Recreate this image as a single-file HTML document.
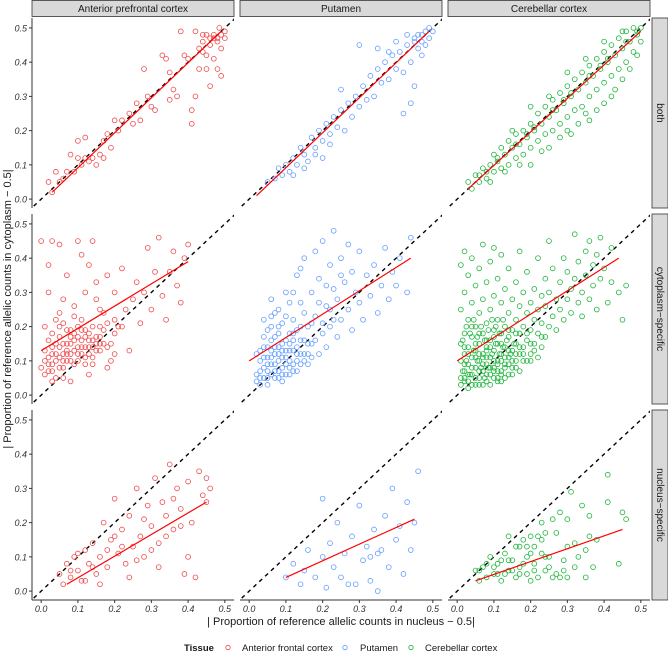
<!DOCTYPE html>
<html><head><meta charset="utf-8"><style>
body{margin:0;background:#fff;width:668px;height:657px;overflow:hidden;font-family:"Liberation Sans",sans-serif}
</style></head><body>
<svg id="chart" width="668" height="657" xmlns="http://www.w3.org/2000/svg" font-family="Liberation Sans, sans-serif"></svg>
<script>
const colTissues=["Anterior prefrontal cortex","Putamen","Cerebellar cortex"];
const rowCategories=["both","cytoplasm\u2212specific","nucleus\u2212specific"];
const legendLabels=["Anterior frontal cortex","Putamen","Cerebellar cortex"];
const tickLabels=["0.0","0.1","0.2","0.3","0.4","0.5"];
const tickValues=[0,0.1,0.2,0.3,0.4,0.5];
// points per panel [x,y]
const apcBoth=[[0.02,0.05],[0.03,0.02],[0.04,0.08],[0.05,0.05],[0.06,0.06],[0.07,0.08],[0.09,0.08],[0.08,0.13],[0.1,0.12],[0.11,0.1],[0.1,0.17],[0.12,0.12],[0.13,0.11],[0.12,0.18],[0.14,0.12],[0.15,0.1],[0.16,0.13],[0.17,0.17],[0.18,0.19],[0.17,0.12],[0.19,0.15],[0.2,0.23],[0.21,0.2],[0.22,0.23],[0.24,0.25],[0.25,0.22],[0.26,0.28],[0.27,0.23],[0.29,0.3],[0.3,0.27],[0.28,0.38],[0.31,0.26],[0.33,0.42],[0.34,0.41],[0.35,0.29],[0.36,0.32],[0.37,0.3],[0.35,0.37],[0.38,0.49],[0.39,0.42],[0.4,0.41],[0.41,0.22],[0.41,0.26],[0.42,0.3],[0.42,0.49],[0.43,0.38],[0.44,0.43],[0.44,0.48],[0.45,0.42],[0.45,0.38],[0.46,0.45],[0.46,0.33],[0.47,0.47],[0.47,0.41],[0.48,0.46],[0.48,0.38],[0.49,0.48],[0.49,0.44],[0.5,0.47],[0.5,0.49],[0.49,0.36],[0.485,0.5],[0.47,0.48],[0.46,0.47],[0.44,0.46],[0.43,0.44],[0.45,0.48],[0.48,0.47]];
const putBoth=[[0.05,0.05],[0.07,0.06],[0.08,0.09],[0.09,0.07],[0.1,0.1],[0.11,0.08],[0.12,0.12],[0.13,0.1],[0.14,0.15],[0.15,0.13],[0.16,0.11],[0.17,0.18],[0.18,0.15],[0.19,0.2],[0.2,0.17],[0.21,0.22],[0.22,0.19],[0.23,0.24],[0.24,0.21],[0.25,0.26],[0.26,0.2],[0.27,0.28],[0.28,0.24],[0.29,0.3],[0.3,0.27],[0.31,0.33],[0.32,0.29],[0.33,0.36],[0.34,0.3],[0.35,0.38],[0.36,0.34],[0.37,0.4],[0.38,0.35],[0.39,0.42],[0.4,0.38],[0.41,0.43],[0.42,0.37],[0.43,0.45],[0.44,0.4],[0.45,0.46],[0.45,0.33],[0.46,0.44],[0.47,0.48],[0.47,0.42],[0.48,0.49],[0.48,0.45],[0.49,0.5],[0.49,0.47],[0.5,0.49],[0.3,0.45],[0.35,0.44],[0.2,0.12],[0.25,0.32],[0.42,0.25],[0.44,0.28],[0.38,0.43],[0.4,0.46],[0.43,0.48],[0.12,0.07],[0.15,0.09],[0.46,0.48],[0.45,0.47],[0.47,0.46],[0.18,0.13],[0.22,0.16]];
const cerBoth=[[0.03,0.05],[0.04,0.03],[0.05,0.07],[0.06,0.05],[0.07,0.09],[0.08,0.06],[0.09,0.1],[0.1,0.08],[0.1,0.13],[0.11,0.12],[0.12,0.09],[0.12,0.15],[0.13,0.13],[0.14,0.1],[0.14,0.17],[0.15,0.15],[0.16,0.12],[0.16,0.19],[0.17,0.16],[0.18,0.13],[0.18,0.2],[0.19,0.18],[0.2,0.15],[0.2,0.22],[0.21,0.2],[0.22,0.17],[0.22,0.25],[0.23,0.22],[0.24,0.19],[0.24,0.27],[0.25,0.24],[0.26,0.2],[0.26,0.29],[0.27,0.26],[0.28,0.22],[0.28,0.31],[0.29,0.28],[0.3,0.24],[0.3,0.33],[0.31,0.3],[0.32,0.26],[0.32,0.35],[0.33,0.32],[0.34,0.27],[0.34,0.37],[0.35,0.34],[0.36,0.3],[0.36,0.39],[0.37,0.36],[0.38,0.32],[0.38,0.41],[0.39,0.38],[0.4,0.34],[0.4,0.43],[0.41,0.4],[0.42,0.36],[0.42,0.45],[0.43,0.42],[0.44,0.38],[0.44,0.47],[0.45,0.44],[0.46,0.4],[0.46,0.49],[0.47,0.46],[0.48,0.43],[0.48,0.5],[0.49,0.48],[0.5,0.46],[0.5,0.5],[0.25,0.15],[0.3,0.2],[0.35,0.25],[0.4,0.28],[0.45,0.35],[0.2,0.1],[0.28,0.18],[0.33,0.22],[0.38,0.26],[0.43,0.32],[0.15,0.2],[0.2,0.27],[0.25,0.3],[0.3,0.37],[0.35,0.41],[0.4,0.46],[0.45,0.49],[0.47,0.38],[0.49,0.42],[0.23,0.14],[0.31,0.19],[0.36,0.23],[0.42,0.3],[0.09,0.05],[0.13,0.08],[0.17,0.1],[0.06,0.07],[0.11,0.11],[0.16,0.16],[0.21,0.21],[0.26,0.26],[0.31,0.31],[0.36,0.36],[0.41,0.41],[0.46,0.46],[0.08,0.08],[0.19,0.19],[0.29,0.29],[0.39,0.39],[0.49,0.49]];
const apcCyto=[[0,0.45],[0.01,0.1],[0.02,0.07],[0.02,0.3],[0.03,0.45],[0.03,0.12],[0.04,0.05],[0.04,0.22],[0.05,0.44],[0.05,0.17],[0.06,0.08],[0.06,0.28],[0.07,0.12],[0.07,0.35],[0.08,0.04],[0.08,0.19],[0.09,0.13],[0.09,0.26],[0.1,0.1],[0.1,0.45],[0.11,0.16],[0.11,0.22],[0.12,0.09],[0.12,0.3],[0.13,0.14],[0.13,0.38],[0.14,0.11],[0.14,0.2],[0.15,0.17],[0.15,0.33],[0.16,0.13],[0.16,0.25],[0.17,0.24],[0.18,0.08],[0.18,0.35],[0.19,0.15],[0.2,0.18],[0.2,0.3],[0.21,0.2],[0.22,0.37],[0.23,0.25],[0.24,0.13],[0.25,0.28],[0.26,0.33],[0.27,0.21],[0.28,0.3],[0.29,0.43],[0.3,0.25],[0.31,0.36],[0.32,0.46],[0.33,0.29],[0.34,0.22],[0.35,0.36],[0.36,0.42],[0.37,0.32],[0.38,0.27],[0.39,0.4],[0.4,0.44],[0.01,0.2],[0.03,0.14],[0.05,0.11],[0.07,0.19],[0.09,0.23],[0.11,0.41],[0.13,0.06],[0.15,0.28],[0.17,0.15],[0.19,0.1],[0.02,0.38],[0.06,0.15],[0.1,0.2],[0.14,0.45],[0,0.08],[0.04,0.12],[0.08,0.1],[0.12,0.14],[0.16,0.2],[0.2,0.12],[0.03,0.09],[0.05,0.14],[0.07,0.1],[0.09,0.16],[0.11,0.12],[0.13,0.18],[0.02,0.16],[0.06,0.21],[0.08,0.15],[0.1,0.14],[0.12,0.17],[0.14,0.16]];
const apcCytoDense=[[0.01,0.06],[0.02,0.11],[0.03,0.07],[0.04,0.15],[0.05,0.08],[0.06,0.12],[0.07,0.15],[0.08,0.12],[0.09,0.09],[0.1,0.17],[0.11,0.14],[0.12,0.11],[0.13,0.16],[0.14,0.14],[0.15,0.13],[0.16,0.17],[0.17,0.19],[0.18,0.14],[0.02,0.09],[0.04,0.1],[0.06,0.1],[0.08,0.17],[0.1,0.12],[0.12,0.19],[0.14,0.09],[0.16,0.15],[0.03,0.18],[0.05,0.2],[0.07,0.13],[0.09,0.18],[0.11,0.19],[0.13,0.12],[0.15,0.15],[0.18,0.21],[0.2,0.22],[0.22,0.2],[0.05,0.24],[0.01,0.13],[0.03,0.04],[0.06,0.05]];
const putCyto=[[0.02,0.06],[0.03,0.1],[0.04,0.08],[0.05,0.14],[0.05,0.05],[0.06,0.2],[0.06,0.09],[0.07,0.12],[0.07,0.07],[0.08,0.25],[0.08,0.1],[0.09,0.15],[0.09,0.06],[0.1,0.3],[0.1,0.11],[0.11,0.18],[0.11,0.08],[0.12,0.22],[0.12,0.13],[0.13,0.35],[0.13,0.1],[0.14,0.16],[0.14,0.27],[0.15,0.12],[0.15,0.4],[0.16,0.2],[0.16,0.09],[0.17,0.3],[0.17,0.15],[0.18,0.42],[0.18,0.23],[0.19,0.12],[0.19,0.34],[0.2,0.18],[0.2,0.45],[0.21,0.26],[0.21,0.14],[0.22,0.38],[0.22,0.2],[0.23,0.31],[0.23,0.48],[0.24,0.17],[0.24,0.28],[0.25,0.4],[0.25,0.22],[0.26,0.33],[0.27,0.25],[0.27,0.44],[0.28,0.19],[0.28,0.36],[0.29,0.3],[0.3,0.27],[0.3,0.42],[0.31,0.22],[0.32,0.35],[0.33,0.29],[0.34,0.38],[0.35,0.24],[0.36,0.32],[0.37,0.43],[0.38,0.28],[0.39,0.36],[0.4,0.32],[0.41,0.4],[0.43,0.3],[0.44,0.46],[0.03,0.05],[0.04,0.14],[0.05,0.09],[0.06,0.13],[0.07,0.17],[0.08,0.07],[0.09,0.11],[0.1,0.16],[0.11,0.13],[0.12,0.09],[0.13,0.19],[0.14,0.12],[0.15,0.24],[0.16,0.15],[0.04,0.22],[0.06,0.28],[0.08,0.18],[0.1,0.23],[0.12,0.3],[0.14,0.37],[0.02,0.12],[0.05,0.19],[0.07,0.24],[0.09,0.21],[0.11,0.27],[0.13,0.14],[0.17,0.21],[0.19,0.27],[0.21,0.32],[0.23,0.22],[0.25,0.35],[0.18,0.16],[0.2,0.21],[0.22,0.25]];
const putCytoDense=[[0.02,0.04],[0.03,0.07],[0.04,0.05],[0.04,0.11],[0.05,0.07],[0.06,0.06],[0.06,0.11],[0.07,0.09],[0.07,0.14],[0.08,0.05],[0.08,0.12],[0.09,0.08],[0.09,0.13],[0.1,0.06],[0.1,0.09],[0.11,0.1],[0.11,0.15],[0.12,0.07],[0.12,0.16],[0.13,0.12],[0.14,0.09],[0.15,0.1],[0.15,0.16],[0.16,0.12],[0.17,0.11],[0.03,0.13],[0.05,0.11],[0.06,0.16],[0.08,0.14],[0.1,0.13],[0.12,0.18],[0.14,0.2],[0.03,0.03],[0.05,0.03],[0.07,0.05],[0.09,0.04],[0.11,0.06],[0.13,0.07],[0.04,0.17],[0.06,0.23],[0.08,0.2]];
const cerCyto=[[0.01,0.05],[0.01,0.1],[0.01,0.15],[0.01,0.25],[0.01,0.38],[0.02,0.07],[0.02,0.12],[0.02,0.18],[0.02,0.3],[0.02,0.42],[0.03,0.04],[0.03,0.09],[0.03,0.14],[0.03,0.22],[0.03,0.35],[0.04,0.06],[0.04,0.11],[0.04,0.17],[0.04,0.27],[0.04,0.4],[0.05,0.03],[0.05,0.08],[0.05,0.13],[0.05,0.2],[0.05,0.32],[0.06,0.05],[0.06,0.1],[0.06,0.15],[0.06,0.24],[0.06,0.37],[0.07,0.07],[0.07,0.12],[0.07,0.18],[0.07,0.28],[0.07,0.44],[0.08,0.04],[0.08,0.09],[0.08,0.14],[0.08,0.21],[0.08,0.33],[0.09,0.06],[0.09,0.11],[0.09,0.16],[0.09,0.25],[0.09,0.39],[0.1,0.08],[0.1,0.13],[0.1,0.19],[0.1,0.29],[0.1,0.43],[0.11,0.05],[0.11,0.1],[0.11,0.15],[0.11,0.22],[0.11,0.34],[0.12,0.07],[0.12,0.12],[0.12,0.18],[0.12,0.27],[0.12,0.41],[0.13,0.09],[0.13,0.14],[0.13,0.2],[0.13,0.31],[0.14,0.06],[0.14,0.11],[0.14,0.17],[0.14,0.24],[0.14,0.37],[0.15,0.08],[0.15,0.13],[0.15,0.19],[0.15,0.28],[0.16,0.1],[0.16,0.15],[0.16,0.22],[0.16,0.33],[0.17,0.07],[0.17,0.12],[0.17,0.18],[0.17,0.26],[0.17,0.42],[0.18,0.14],[0.18,0.2],[0.18,0.3],[0.19,0.1],[0.19,0.16],[0.19,0.24],[0.19,0.36],[0.2,0.12],[0.2,0.19],[0.2,0.27],[0.21,0.15],[0.21,0.22],[0.21,0.31],[0.22,0.18],[0.22,0.25],[0.22,0.4],[0.23,0.14],[0.23,0.21],[0.23,0.29],[0.24,0.17],[0.24,0.26],[0.24,0.34],[0.25,0.2],[0.25,0.3],[0.25,0.45],[0.26,0.23],[0.26,0.37],[0.27,0.19],[0.27,0.28],[0.28,0.25],[0.28,0.33],[0.29,0.22],[0.29,0.4],[0.3,0.28],[0.3,0.36],[0.31,0.24],[0.31,0.31],[0.32,0.34],[0.32,0.47],[0.33,0.27],[0.33,0.39],[0.34,0.23],[0.34,0.3],[0.35,0.35],[0.35,0.42],[0.36,0.28],[0.36,0.45],[0.37,0.32],[0.37,0.38],[0.38,0.25],[0.38,0.41],[0.39,0.34],[0.39,0.46],[0.4,0.37],[0.41,0.27],[0.42,0.43],[0.42,0.33],[0.44,0.3],[0.45,0.22],[0.46,0.32],[0.02,0.09],[0.04,0.08],[0.06,0.12],[0.08,0.11],[0.1,0.1],[0.12,0.1],[0.14,0.13],[0.03,0.06],[0.05,0.11],[0.07,0.09],[0.09,0.08],[0.11,0.07],[0.13,0.11],[0.15,0.1],[0.16,0.12],[0.18,0.1],[0.2,0.15],[0.06,0.07],[0.08,0.06],[0.1,0.05],[0.12,0.04],[0.02,0.04]];
const cerCytoDense=[[0.01,0.03],[0.015,0.07],[0.02,0.05],[0.025,0.1],[0.03,0.12],[0.035,0.06],[0.04,0.03],[0.045,0.13],[0.05,0.05],[0.055,0.1],[0.06,0.03],[0.065,0.08],[0.07,0.11],[0.075,0.05],[0.08,0.13],[0.085,0.08],[0.09,0.03],[0.095,0.12],[0.1,0.07],[0.105,0.15],[0.11,0.09],[0.115,0.12],[0.12,0.06],[0.125,0.14],[0.13,0.08],[0.135,0.16],[0.14,0.09],[0.145,0.12],[0.15,0.06],[0.155,0.15],[0.16,0.08],[0.17,0.14],[0.18,0.12],[0.19,0.18],[0.2,0.1],[0.21,0.13],[0.22,0.11],[0.23,0.17],[0.015,0.16],[0.025,0.2],[0.035,0.18],[0.045,0.22],[0.055,0.17],[0.065,0.2],[0.075,0.16],[0.085,0.19],[0.095,0.22],[0.105,0.2],[0.115,0.18],[0.125,0.22],[0.02,0.14],[0.04,0.2],[0.06,0.18],[0.08,0.16],[0.1,0.17],[0.12,0.15],[0.14,0.19],[0.16,0.18],[0.03,0.02],[0.07,0.03],[0.11,0.04],[0.05,0.15],[0.09,0.14],[0.13,0.05]];
const apcNuc=[[0.05,0.05],[0.06,0.02],[0.07,0.08],[0.08,0.04],[0.09,0.1],[0.1,0.06],[0.11,0.03],[0.12,0.12],[0.13,0.08],[0.14,0.14],[0.15,0.05],[0.16,0.1],[0.17,0.2],[0.18,0.07],[0.19,0.15],[0.2,0.27],[0.21,0.11],[0.22,0.18],[0.23,0.08],[0.24,0.22],[0.25,0.13],[0.26,0.3],[0.27,0.16],[0.28,0.1],[0.29,0.25],[0.3,0.19],[0.31,0.33],[0.32,0.14],[0.33,0.26],[0.34,0.22],[0.35,0.37],[0.36,0.18],[0.37,0.3],[0.38,0.24],[0.39,0.05],[0.4,0.32],[0.41,0.2],[0.42,0.04],[0.43,0.35],[0.44,0.28],[0.45,0.33],[0.46,0.3],[0.1,0.11],[0.14,0.07],[0.18,0.12],[0.22,0.13],[0.26,0.09],[0.3,0.12],[0.34,0.16],[0.38,0.19],[0.16,0.02],[0.24,0.04],[0.32,0.07],[0.2,0.16],[0.28,0.21],[0.36,0.27],[0.12,0.03],[0.08,0.06],[0.4,0.1],[0.45,0.26]];
const putNuc=[[0.1,0.04],[0.12,0.08],[0.14,0.02],[0.15,0.06],[0.16,0.12],[0.18,0.04],[0.2,0.1],[0.22,0.14],[0.23,0.07],[0.24,0.2],[0.25,0.04],[0.26,0.11],[0.28,0.16],[0.29,0.02],[0.3,0.25],[0.31,0.09],[0.32,0.13],[0.33,0.03],[0.34,0.18],[0.35,0.0],[0.36,0.12],[0.37,0.22],[0.38,0.07],[0.39,0.3],[0.4,0.15],[0.41,0.19],[0.43,0.26],[0.44,0.12],[0.45,0.2],[0.46,0.35],[0.42,0.05],[0.27,0.02],[0.21,0.01],[0.33,0.1],[0.2,0.27],[0.35,0.11]];
const cerNuc=[[0.05,0.06],[0.06,0.03],[0.07,0.07],[0.08,0.04],[0.09,0.1],[0.1,0.05],[0.11,0.08],[0.12,0.03],[0.13,0.11],[0.14,0.06],[0.14,0.16],[0.15,0.09],[0.16,0.04],[0.17,0.13],[0.17,0.07],[0.18,0.15],[0.19,0.1],[0.19,0.05],[0.2,0.16],[0.21,0.08],[0.21,0.13],[0.22,0.04],[0.22,0.16],[0.23,0.11],[0.23,0.2],[0.24,0.06],[0.24,0.17],[0.25,0.1],[0.26,0.21],[0.27,0.05],[0.27,0.17],[0.28,0.23],[0.29,0.09],[0.3,0.13],[0.3,0.21],[0.31,0.29],[0.32,0.07],[0.32,0.14],[0.33,0.1],[0.34,0.25],[0.35,0.12],[0.35,0.04],[0.36,0.16],[0.36,0.22],[0.37,0.07],[0.38,0.15],[0.41,0.34],[0.41,0.26],[0.44,0.08],[0.45,0.23],[0.46,0.21],[0.08,0.08],[0.1,0.07],[0.12,0.09],[0.15,0.06],[0.18,0.08],[0.2,0.11],[0.25,0.07],[0.28,0.04],[0.3,0.04],[0.16,0.13],[0.13,0.05],[0.06,0.06],[0.2,0.03],[0.23,0.15],[0.11,0.05],[0.14,0.09],[0.17,0.05],[0.19,0.13],[0.21,0.06],[0.24,0.1],[0.26,0.04],[0.29,0.06]];
// fitted line endpoints [x1,y1,x2,y2]
const fitBoth=[[0.03,0.02,0.49,0.49],[0.02,0.01,0.49,0.49],[0.03,0.03,0.5,0.49]];
const fitCyto=[[0.0,0.13,0.4,0.39],[0.0,0.1,0.44,0.4],[0.0,0.1,0.44,0.4]];
const fitNuc=[[0.07,0.02,0.45,0.26],[0.1,0.04,0.45,0.21],[0.05,0.03,0.45,0.18]];

const panelPoints=[[apcBoth,putBoth,cerBoth],[apcCyto.concat(apcCytoDense),putCyto.concat(putCytoDense),cerCyto.concat(cerCytoDense)],[apcNuc,putNuc,cerNuc]];
const fits=[fitBoth,fitCyto,fitNuc];
const colors=["#F0484A","#619CFF","#1DB43A"];
const NS="http://www.w3.org/2000/svg";
const svg=document.getElementById("chart");
const colX=[32,240,448],PW=202,rowY=[18,214,410],PH=190;
const DMIN=-0.025,DMAX=0.525,YMIN=-0.026,YMAX=0.529;
function sx(c,v){return colX[c]+(v-DMIN)/(DMAX-DMIN)*PW;}
function sy(r,v){return rowY[r]+PH-(v-YMIN)/(YMAX-YMIN)*PH;}
function mk(tag,attrs,parent){const e=document.createElementNS(NS,tag);for(const k in attrs)e.setAttribute(k,attrs[k]);(parent||svg).appendChild(e);return e;}
const defs=mk("defs",{});
for(let r=0;r<3;r++)for(let c=0;c<3;c++){
  const cp=mk("clipPath",{id:"cp"+r+c},defs);mk("rect",{x:colX[c],y:rowY[r],width:PW,height:PH},cp);
}
for(let r=0;r<3;r++){
  for(let c=0;c<3;c++){
    const g=mk("g",{"clip-path":"url(#cp"+r+c+")"});
    
    
    const dl=mk("line",{x1:sx(c,-0.1),y1:sy(r,-0.1),x2:sx(c,0.6),y2:sy(r,0.6),stroke:"#000","stroke-width":1.4,"stroke-dasharray":"4,4"},g);
    
    
    for(const p of panelPoints[r][c]){
      const pt=mk("circle",{cx:sx(c,p[0]),cy:sy(r,p[1]),r:2.4,fill:"none",stroke:colors[c],"stroke-width":0.8},g);
      
      
    }
    const f=fits[r][c];
    const fl=mk("line",{x1:sx(c,f[0]),y1:sy(r,f[1]),x2:sx(c,f[2]),y2:sy(r,f[3]),stroke:"#FF0000","stroke-width":1.2},g);
    
    
  }
  const ya=mk("line",{x1:32,y1:rowY[r],x2:32,y2:rowY[r]+PH,stroke:"#333","stroke-width":1});
  
  
  tickValues.forEach((v,i)=>{
    mk("line",{x1:29,x2:32,y1:sy(r,v),y2:sy(r,v),stroke:"#333"});
    const t=mk("text",{x:27,y:sy(r,v)+3.5,"text-anchor":"end","font-size":"9","font-style":"italic",fill:"#333"});
    t.textContent=tickLabels[i];
    
    
  });
  const rs=mk("rect",{x:652,y:rowY[r],width:16,height:PH,fill:"#D9D9D9",stroke:"#333","stroke-width":0.8});
  
  
  const rt=mk("text",{x:0,y:0,"font-size":"10",fill:"#1a1a1a","text-anchor":"middle",transform:"translate(657,"+(rowY[r]+PH/2)+") rotate(90)"});
  rt.textContent=rowCategories[r];
  
  
}
for(let c=0;c<3;c++){
  const cs=mk("rect",{x:colX[c],y:0.5,width:PW,height:16,fill:"#D9D9D9",stroke:"#333","stroke-width":0.8});
  
  
  const ct=mk("text",{x:colX[c]+PW/2,y:12,"font-size":"10","text-anchor":"middle",fill:"#1a1a1a"});
  ct.textContent=colTissues[c];
  
  
  const xa=mk("line",{x1:colX[c],x2:colX[c]+PW,y1:600,y2:600,stroke:"#333"});
  
  
  tickValues.forEach((v,i)=>{
    mk("line",{x1:sx(c,v),x2:sx(c,v),y1:600,y2:603,stroke:"#333"});
    const t=mk("text",{x:sx(c,v),y:612,"text-anchor":"middle","font-size":"9","font-style":"italic",fill:"#333"});
    t.textContent=tickLabels[i];
    
    
  });
}
const xt=mk("text",{x:341,y:625,"text-anchor":"middle","font-size":"11",fill:"#1a1a1a"});
xt.textContent="| Proportion of reference allelic counts in nucleus \u2212 0.5|";


const yt=mk("text",{x:0,y:0,"text-anchor":"middle","font-size":"11",fill:"#1a1a1a",transform:"translate(11,309) rotate(-90)"});
yt.textContent="| Proportion of reference allelic counts in cytoplasm \u2212 0.5|";


const lg=mk("g",{});


const lt=mk("text",{x:184,y:651,"font-size":"9.5","font-weight":"bold",fill:"#1a1a1a"},lg);
lt.textContent="Tissue";
const legCircleX=[228,345,411];
const legTextX=[242,360,425];
legendLabels.forEach((l,i)=>{
  const e=mk("g",{},lg);
  
  
  mk("circle",{cx:legCircleX[i],cy:647.5,r:2.2,fill:"none",stroke:colors[i],"stroke-width":0.8},e);
  const t=mk("text",{x:legTextX[i],y:651,"font-size":"9.5",fill:"#1a1a1a"},e);
  t.textContent=l;
});
</script>
</body></html>
